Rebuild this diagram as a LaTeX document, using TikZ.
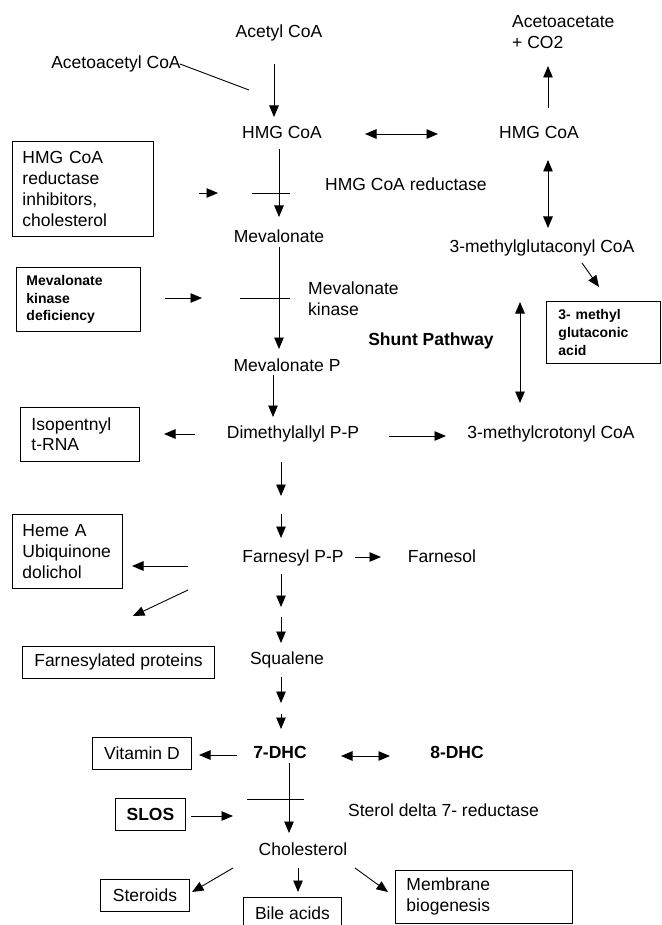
\documentclass[tikz,border=0pt]{standalone}
\usepackage{fontspec}
\setmainfont{Liberation Sans}
\usetikzlibrary{arrows.meta}
\begin{document}
\begin{tikzpicture}[x=1pt,y=-1pt,
  lbl/.style={inner sep=0pt, anchor=base, font=\fontsize{17.5}{21}\selectfont},
  lblb/.style={lbl, font=\fontsize{17.5}{21}\selectfont\bfseries},
  mlbl/.style={inner sep=0pt, align=left, font=\fontsize{17.5}{21}\selectfont},
  box/.style={draw, line width=0.9pt, inner ysep=0pt, anchor=north west, align=left, font=\fontsize{17.5}{21}\selectfont},
  sbox/.style={box, font=\fontsize{14}{17.5}\selectfont\bfseries},
  arr/.style={-{Triangle[length=11.5pt,width=9.5pt]}, line width=0.9pt},
  darr/.style={{Triangle[length=11.5pt,width=9.5pt]}-{Triangle[length=11.5pt,width=9.5pt]}, line width=0.9pt},
  ln/.style={line width=0.9pt}]
\useasboundingbox (0,0) rectangle (661,925);
\clip (0,0) rectangle (661,925);
\fill[white] (0,0) rectangle (661,925);

% ---------- labels ----------
\node[lbl] (acetyl) at (279,38) {Acetyl CoA};
\node[lbl] (acetoacetyl) at (116,69) {Acetoacetyl CoA};
\node[mlbl, anchor=west] (acetoacetate) at (512,32.5) {Acetoacetate\\+ CO2};
\node[lbl] (hmg1) at (282,139) {HMG CoA};
\node[lbl] (hmg2) at (539,139) {HMG CoA};
\node[lbl, anchor=base west] (hmgred) at (325,191) {HMG CoA reductase};
\node[lbl] (meval) at (279,243) {Mevalonate};
\node[mlbl, anchor=west] (mevkin) at (308,298.5) {Mevalonate\\kinase};
\node[lbl] (mglut) at (542,252) {3-methylglutaconyl CoA};
\node[lblb] (shunt) at (431,345) {Shunt Pathway};
\node[lbl] (mevalp) at (287,371) {Mevalonate P};
\node[lbl] (dmapp) at (293,438) {Dimethylallyl P-P};
\node[lbl] (mcrot) at (551,438) {3-methylcrotonyl CoA};
\node[lbl] (fpp) at (293,562) {Farnesyl P-P};
\node[lbl] (farnesol) at (442,562) {Farnesol};
\node[lbl] (squalene) at (287,664) {Squalene};
\node[lblb] (dhc7) at (280,758) {7-DHC};
\node[lblb] (dhc8) at (457,758) {8-DHC};
\node[lbl, anchor=base west] (sterred) at (348,816) {Sterol delta 7- reductase};
\node[lbl] (chol) at (303,855) {Cholesterol};

% ---------- boxes ----------
\node[box, minimum width=141pt, minimum height=95pt, inner xsep=10pt, text width=121pt] (inhib) at (12,141) {HMG CoA\\reductase\\inhibitors,\\cholesterol};
\node[sbox, minimum width=124pt, minimum height=64pt, inner xsep=10pt, text width=104pt] (mkd) at (16,267) {Mevalonate\\kinase\\deficiency};
\node[sbox, minimum width=114pt, minimum height=62pt, inner xsep=12pt, text width=90pt, font=\fontsize{14}{18}\selectfont\bfseries] (mga) at (546,301) {3- methyl\\glutaconic\\acid};
\node[box, minimum width=119pt, minimum height=54pt, inner xsep=11pt, text width=97pt, font=\fontsize{17.5}{20}\selectfont] (trna) at (20,407) {Isopentnyl\\t-RNA};
\node[box, minimum width=110pt, minimum height=74pt, inner xsep=10pt, text width=90pt] (heme) at (12,514) {Heme A\\Ubiquinone\\dolichol};
\node[box, minimum width=192pt, minimum height=32pt, inner xsep=0pt, align=center] (fprot) at (22,646) {Farnesylated proteins};
\node[box, minimum width=99pt, minimum height=32pt, inner xsep=0pt, align=center] (vitd) at (92,737) {Vitamin D};
\node[box, minimum width=70pt, minimum height=32pt, inner xsep=0pt, align=center, font=\fontsize{17.5}{21}\selectfont\bfseries] (slos) at (115,798) {SLOS};
\node[box, minimum width=89pt, minimum height=32pt, inner xsep=0pt, align=center] (steroids) at (100,879) {Steroids};
\node[box, minimum width=98pt, minimum height=32pt, inner xsep=0pt, align=center] (bile) at (243,897) {Bile acids};
\node[box, minimum width=177pt, minimum height=53pt, inner xsep=11pt, text width=155pt] (membrane) at (395,870) {Membrane\\biogenesis};

% ---------- connector end points ----------
\path (180,64) coordinate (c1a) (249,90) coordinate (c1b)
      (274,64) coordinate (c2a) (274,117) coordinate (c2b)
      (365,134) coordinate (c3a) (438,134) coordinate (c3b)
      (548,108) coordinate (c4a) (548,66) coordinate (c4b)
      (199,193) coordinate (c5a) (218,193) coordinate (c5b)
      (252,193) coordinate (c6a) (290,193) coordinate (c6b)
      (279,149) coordinate (c7a) (279,217) coordinate (c7b)
      (548,160) coordinate (c8a) (548,228) coordinate (c8b)
      (582,263) coordinate (c9a) (599,287) coordinate (c9b)
      (165,298) coordinate (c10a) (202,298) coordinate (c10b)
      (240,298) coordinate (c11a) (290,298) coordinate (c11b)
      (279,247) coordinate (c12a) (279,349) coordinate (c12b)
      (520,302) coordinate (c13a) (520,403) coordinate (c13b)
      (273,375) coordinate (c14a) (273,417) coordinate (c14b)
      (195,434) coordinate (c15a) (164,434) coordinate (c15b)
      (389,436) coordinate (c16a) (446,436) coordinate (c16b)
      (281,462) coordinate (c17a) (281,496) coordinate (c17b)
      (281,514) coordinate (c18a) (281,538) coordinate (c18b)
      (188,566) coordinate (c19a) (132,566) coordinate (c19b)
      (355,557) coordinate (c20a) (381,557) coordinate (c20b)
      (281,574) coordinate (c21a) (281,607) coordinate (c21b)
      (188,590) coordinate (c22a) (133,616) coordinate (c22b)
      (281,617) coordinate (c23a) (281,643) coordinate (c23b)
      (281,677) coordinate (c24a) (281,703) coordinate (c24b)
      (281,714) coordinate (c25a) (281,729) coordinate (c25b)
      (237,755) coordinate (c26a) (199,755) coordinate (c26b)
      (341,756) coordinate (c27a) (390,756) coordinate (c27b)
      (289,763) coordinate (c28a) (289,833) coordinate (c28b)
      (247,799) coordinate (c29a) (304,799) coordinate (c29b)
      (191,816) coordinate (c30a) (233,816) coordinate (c30b)
      (233,868) coordinate (c31a) (192,892) coordinate (c31b)
      (298,868) coordinate (c32a) (298,892) coordinate (c32b)
      (355,868) coordinate (c33a) (388,892) coordinate (c33b);

% ---------- connectors ----------
\draw[ln] (c1a) -- (c1b);
\draw[arr] (c2a) -- (c2b);
\draw[darr] (c3a) -- (c3b);
\draw[arr] (c4a) -- (c4b);
\draw[arr] (c5a) -- (c5b);
\draw[ln] (c6a) -- (c6b);
\draw[arr] (c7a) -- (c7b);
\draw[darr] (c8a) -- (c8b);
\draw[arr] (c9a) -- (c9b);
\draw[arr] (c10a) -- (c10b);
\draw[ln] (c11a) -- (c11b);
\draw[arr] (c12a) -- (c12b);
\draw[darr] (c13a) -- (c13b);
\draw[arr] (c14a) -- (c14b);
\draw[arr] (c15a) -- (c15b);
\draw[arr] (c16a) -- (c16b);
\draw[arr] (c17a) -- (c17b);
\draw[arr] (c18a) -- (c18b);
\draw[arr] (c19a) -- (c19b);
\draw[arr] (c20a) -- (c20b);
\draw[arr] (c21a) -- (c21b);
\draw[arr] (c22a) -- (c22b);
\draw[arr] (c23a) -- (c23b);
\draw[arr] (c24a) -- (c24b);
\draw[arr] (c25a) -- (c25b);
\draw[arr] (c26a) -- (c26b);
\draw[darr] (c27a) -- (c27b);
\draw[arr] (c28a) -- (c28b);
\draw[ln] (c29a) -- (c29b);
\draw[arr] (c30a) -- (c30b);
\draw[arr] (c31a) -- (c31b);
\draw[arr] (c32a) -- (c32b);
\draw[arr] (c33a) -- (c33b);
\end{tikzpicture}
\end{document}
